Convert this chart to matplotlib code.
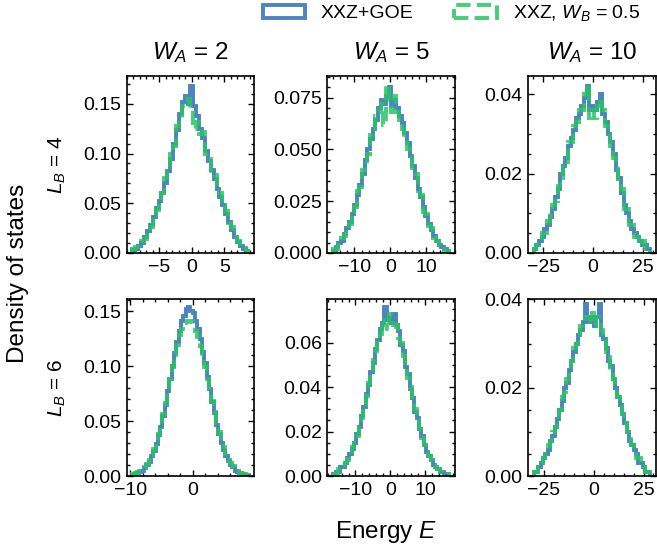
import numpy as np
import matplotlib
matplotlib.use('Agg')
import matplotlib.pyplot as plt
from matplotlib.ticker import AutoMinorLocator

plt.rcParams['font.family'] = ['Liberation Sans', 'DejaVu Sans']
plt.rcParams['mathtext.fontset'] = 'custom'
plt.rcParams['mathtext.rm'] = 'Liberation Sans'
plt.rcParams['mathtext.it'] = 'Liberation Sans:italic'
plt.rcParams['mathtext.bf'] = 'Liberation Sans:bold'

w_a_values = [2, 5, 10]
l_b_values = [4, 6]
series_labels = ['XXZ+GOE', r'XXZ, $W_B$ = 0.5']

# energy range covered by the histogram bins of each panel
e_range_L4_W2 = (-9.1, 8.7)
e_range_L4_W5 = (-16.0, 16.5)
e_range_L4_W10 = (-29.7, 28.4)
e_range_L6_W2 = (-9.7, 9.0)
e_range_L6_W5 = (-16.4, 16.9)
e_range_L6_W10 = (-30.0, 28.2)

# density of states per bin
goe_L4_W2 = [0.003, 0.004, 0.007, 0.010, 0.016, 0.022, 0.028, 0.036, 0.045, 0.052,
             0.060, 0.070, 0.082, 0.095, 0.110, 0.124, 0.140, 0.152, 0.158, 0.150,
             0.168, 0.148, 0.138, 0.125, 0.116, 0.103, 0.093, 0.083, 0.074, 0.064,
             0.056, 0.048, 0.039, 0.031, 0.023, 0.016, 0.011, 0.007, 0.004, 0.002]
wb_L4_W2 = [0.004, 0.006, 0.006, 0.012, 0.014, 0.024, 0.026, 0.038, 0.043, 0.055,
            0.060, 0.075, 0.082, 0.100, 0.108, 0.128, 0.136, 0.148, 0.152, 0.155,
            0.145, 0.125, 0.132, 0.120, 0.122, 0.100, 0.098, 0.082, 0.078, 0.064,
            0.060, 0.048, 0.042, 0.030, 0.026, 0.016, 0.012, 0.006, 0.005, 0.002]

goe_L4_W5 = [0.001, 0.003, 0.005, 0.006, 0.009, 0.012, 0.015, 0.019, 0.023, 0.028,
             0.033, 0.038, 0.045, 0.050, 0.055, 0.060, 0.064, 0.070, 0.074, 0.072,
             0.076, 0.080, 0.071, 0.074, 0.070, 0.066, 0.063, 0.058, 0.053, 0.047,
             0.042, 0.036, 0.031, 0.027, 0.022, 0.018, 0.014, 0.011, 0.008, 0.006,
             0.004, 0.003, 0.002, 0.001]
wb_L4_W5 = [0.002, 0.002, 0.004, 0.007, 0.008, 0.013, 0.014, 0.020, 0.022, 0.030,
            0.032, 0.040, 0.043, 0.048, 0.057, 0.058, 0.066, 0.068, 0.072, 0.062,
            0.081, 0.074, 0.068, 0.076, 0.068, 0.064, 0.060, 0.056, 0.050, 0.048,
            0.040, 0.038, 0.030, 0.028, 0.020, 0.019, 0.013, 0.012, 0.007, 0.006,
            0.003, 0.003, 0.001, 0.001]

goe_L4_W10 = [0.001, 0.002, 0.003, 0.004, 0.006, 0.007, 0.009, 0.011, 0.014, 0.016,
              0.020, 0.022, 0.024, 0.027, 0.029, 0.031, 0.034, 0.035, 0.037, 0.039,
              0.042, 0.036, 0.037, 0.036, 0.038, 0.040, 0.035, 0.033, 0.030, 0.028,
              0.025, 0.021, 0.019, 0.015, 0.012, 0.010, 0.008, 0.006, 0.005, 0.004,
              0.003, 0.002, 0.002, 0.001]
wb_L4_W10 = [0.001, 0.002, 0.002, 0.005, 0.005, 0.008, 0.010, 0.012, 0.013, 0.017,
             0.019, 0.023, 0.023, 0.028, 0.028, 0.032, 0.033, 0.036, 0.036, 0.040,
             0.0425, 0.034, 0.036, 0.034, 0.037, 0.039, 0.036, 0.032, 0.031, 0.027,
             0.024, 0.022, 0.018, 0.016, 0.011, 0.011, 0.007, 0.007, 0.004, 0.004,
             0.002, 0.003, 0.001, 0.001]

goe_L6_W2 = [0.001, 0.002, 0.003, 0.004, 0.005, 0.007, 0.010, 0.013, 0.018, 0.023,
             0.029, 0.037, 0.045, 0.055, 0.065, 0.077, 0.088, 0.100, 0.112, 0.122,
             0.132, 0.141, 0.146, 0.152, 0.154, 0.150, 0.148, 0.141, 0.134, 0.125,
             0.113, 0.103, 0.090, 0.079, 0.067, 0.057, 0.046, 0.038, 0.030, 0.024,
             0.018, 0.014, 0.010, 0.008, 0.005, 0.004, 0.003, 0.002, 0.001, 0.001]
wb_L6_W2 = [0.002, 0.003, 0.004, 0.005, 0.006, 0.008, 0.011, 0.015, 0.019, 0.025,
            0.031, 0.038, 0.047, 0.056, 0.066, 0.077, 0.088, 0.099, 0.110, 0.119,
            0.128, 0.134, 0.139, 0.141, 0.140, 0.141, 0.137, 0.132, 0.126, 0.118,
            0.108, 0.099, 0.088, 0.078, 0.068, 0.058, 0.048, 0.040, 0.032, 0.026,
            0.020, 0.015, 0.012, 0.009, 0.006, 0.005, 0.003, 0.002, 0.002, 0.001]

goe_L6_W5 = [0.001, 0.002, 0.002, 0.004, 0.004, 0.006, 0.008, 0.010, 0.012, 0.015,
             0.019, 0.022, 0.027, 0.031, 0.037, 0.041, 0.047, 0.051, 0.057, 0.061,
             0.066, 0.069, 0.076, 0.070, 0.071, 0.069, 0.073, 0.068, 0.065, 0.059,
             0.056, 0.049, 0.046, 0.039, 0.035, 0.029, 0.026, 0.021, 0.018, 0.014,
             0.011, 0.009, 0.007, 0.005, 0.004, 0.003, 0.002, 0.002, 0.001, 0.001]
wb_L6_W5 = [0.001, 0.001, 0.003, 0.003, 0.005, 0.006, 0.007, 0.010, 0.013, 0.015,
            0.018, 0.023, 0.026, 0.032, 0.036, 0.042, 0.046, 0.052, 0.056, 0.062,
            0.064, 0.070, 0.068, 0.066, 0.073, 0.072, 0.068, 0.067, 0.062, 0.060,
            0.054, 0.050, 0.044, 0.040, 0.034, 0.030, 0.025, 0.021, 0.017, 0.014,
            0.011, 0.009, 0.007, 0.005, 0.004, 0.003, 0.002, 0.001, 0.001, 0.001]

goe_L6_W10 = [0.001, 0.001, 0.002, 0.003, 0.004, 0.005, 0.006, 0.008, 0.009, 0.011,
              0.013, 0.015, 0.017, 0.020, 0.021, 0.024, 0.026, 0.028, 0.030, 0.032,
              0.033, 0.035, 0.039, 0.035, 0.036, 0.036, 0.034, 0.036, 0.039, 0.032,
              0.031, 0.029, 0.026, 0.025, 0.022, 0.020, 0.018, 0.016, 0.014, 0.012,
              0.010, 0.008, 0.007, 0.006, 0.005, 0.003, 0.003, 0.002, 0.001, 0.001]
wb_L6_W10 = [0.001, 0.001, 0.002, 0.003, 0.004, 0.005, 0.007, 0.008, 0.010, 0.011,
             0.013, 0.015, 0.018, 0.019, 0.022, 0.024, 0.026, 0.029, 0.030, 0.032,
             0.034, 0.035, 0.036, 0.036, 0.035, 0.037, 0.034, 0.036, 0.035, 0.033,
             0.031, 0.028, 0.027, 0.024, 0.022, 0.020, 0.018, 0.016, 0.014, 0.012,
             0.010, 0.009, 0.007, 0.006, 0.004, 0.004, 0.003, 0.002, 0.001, 0.001]

panel_ranges = [[e_range_L4_W2, e_range_L4_W5, e_range_L4_W10],
                [e_range_L6_W2, e_range_L6_W5, e_range_L6_W10]]
panel_goe = [[goe_L4_W2, goe_L4_W5, goe_L4_W10],
             [goe_L6_W2, goe_L6_W5, goe_L6_W10]]
panel_wb = [[wb_L4_W2, wb_L4_W5, wb_L4_W10],
            [wb_L6_W2, wb_L6_W5, wb_L6_W10]]

xlims = [[(-10.0, 9.6), (-17.6, 18.1), (-32.6, 31.3)],
         [(-10.6, 9.9), (-18.1, 18.6), (-32.9, 31.1)]]
ylims = [[0.178, 0.0855, 0.0446], [0.161, 0.0796, 0.0401]]
xticks = [[[-5, 0, 5], [-10, 0, 10], [-25, 0, 25]],
          [[-10, 0], [-10, 0, 10], [-25, 0, 25]]]
yticks = [[[0, 0.05, 0.10, 0.15], [0, 0.025, 0.05, 0.075], [0, 0.02, 0.04]],
          [[0, 0.05, 0.10, 0.15], [0, 0.02, 0.04, 0.06], [0, 0.02, 0.04]]]

BLUE = '#2d6db5'
GREEN = '#28c462'

fig = plt.figure(figsize=(6.57, 5.53), dpi=100)
axes = fig.subplots(2, 3)
fig.subplots_adjust(left=0.1927, right=0.998, bottom=0.1392, top=0.8626,
                    wspace=0.572, hspace=0.26)

for r in range(2):
    for c in range(3):
        ax = axes[r, c]
        lo, hi = panel_ranges[r][c]
        for vals, color, ls, label in [(panel_goe[r][c], BLUE, '-', series_labels[0]),
                                       (panel_wb[r][c], GREEN, '--', series_labels[1])]:
            edges = np.linspace(lo, hi, len(vals) + 1)
            centers = 0.5 * (edges[:-1] + edges[1:])
            ax.hist(centers, bins=edges, weights=vals, histtype='step',
                    color=color, linestyle=ls, linewidth=2.8, alpha=0.85, label=label)

        ax.set_xlim(*xlims[r][c])
        ax.set_ylim(0, ylims[r][c])
        ax.set_xticks(xticks[r][c])
        ax.set_yticks(yticks[r][c])
        ax.xaxis.set_minor_locator(AutoMinorLocator())
        ax.yaxis.set_minor_locator(AutoMinorLocator())
        ax.tick_params(which='both', direction='in', top=True, right=True,
                       labelsize=14, width=1.0, pad=4)
        ax.tick_params(which='major', length=4)
        ax.tick_params(which='minor', length=2.2)
        for sp in ax.spines.values():
            sp.set_linewidth(1.2)

        if r == 0:
            ax.set_title(rf'$W_A$ = {w_a_values[c]}', fontsize=17.5, pad=12)

for r in range(2):
    pos = axes[r, 0].get_position()
    fig.text(0.0875, 0.5 * (pos.y0 + pos.y1), rf'$L_B$ = {l_b_values[r]}',
             rotation=90, ha='center', va='center', fontsize=15)

fig.text(0.027, 0.505, 'Density of states', rotation=90, ha='center', va='center',
         fontsize=17.5)
fig.text(0.588, 0.038, r'Energy $E$', ha='center', va='center', fontsize=17.5)

handles, labels = axes[0, 0].get_legend_handles_labels()
fig.legend(handles, labels, loc='center right', bbox_to_anchor=(0.986, 0.9756), ncol=2,
           frameon=False, fontsize=14, handlelength=2.2, handletextpad=0.8,
           columnspacing=2.1, borderaxespad=0.0)

fig.savefig('out.png', dpi=100)
